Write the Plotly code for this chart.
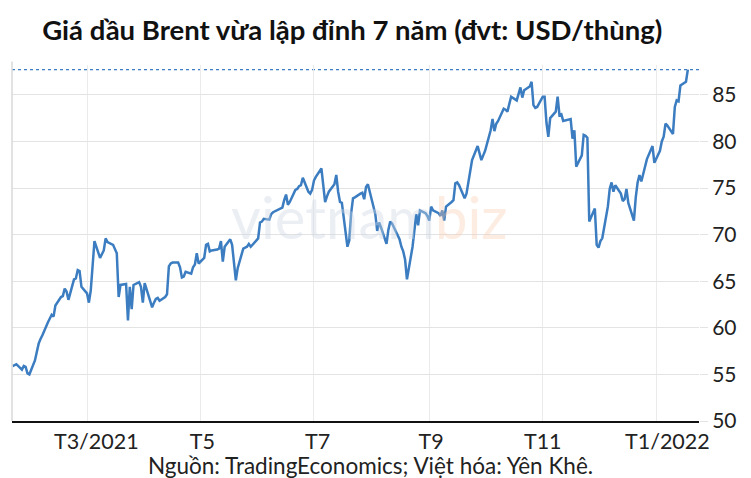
import plotly.graph_objects as go

# ---- data ----
dates = (
    ["2021-01-%02d" % d for d in [20, 21, 22, 25, 26, 27, 28, 29]]
    + ["2021-02-%02d" % d for d in [1, 2, 3, 4, 5, 8, 9, 10, 11, 12, 15, 16, 17, 18, 19, 22, 23, 24, 25, 26]]
    + ["2021-03-%02d" % d for d in [1, 2, 3, 4, 5, 8, 9, 10, 11, 12, 15, 16, 17, 18, 19, 22, 23, 24, 25, 26, 29, 30, 31]]
    + ["2021-04-%02d" % d for d in [1, 5, 6, 7, 8, 9, 12, 13, 14, 15, 16, 19, 20, 21, 22, 23, 26, 27, 28, 29, 30]]
    + ["2021-05-%02d" % d for d in [3, 4, 5, 6, 7, 10, 11, 12, 13, 14, 17, 18, 19, 20, 21, 24, 25, 26, 27, 28]]
    + ["2021-06-%02d" % d for d in [1, 2, 3, 4, 7, 8, 9, 10, 11, 14, 15, 16, 17, 18, 21, 22, 23, 24, 25, 28, 29, 30]]
    + ["2021-07-%02d" % d for d in [1, 2, 5, 6, 7, 8, 9, 12, 13, 14, 15, 16, 19, 20, 21, 22, 23, 26, 27, 28, 29, 30]]
    + ["2021-08-%02d" % d for d in [2, 3, 4, 5, 6, 9, 10, 11, 12, 13, 16, 17, 18, 19, 20, 23, 24, 25, 26, 27, 30, 31]]
    + ["2021-09-%02d" % d for d in [1, 2, 3, 6, 7, 8, 9, 10, 13, 14, 15, 16, 17, 20, 21, 22, 23, 24, 27, 28, 29, 30]]
    + ["2021-10-%02d" % d for d in [1, 4, 5, 6, 7, 8, 11, 12, 13, 14, 15, 18, 19, 20, 21, 22, 25, 26, 27, 28, 29]]
    + ["2021-11-%02d" % d for d in [1, 2, 3, 4, 5, 8, 9, 10, 11, 12, 15, 16, 17, 18, 19, 22, 23, 24, 25, 26, 29, 30]]
    + ["2021-12-%02d" % d for d in [1, 2, 3, 6, 7, 8, 9, 10, 13, 14, 15, 16, 17, 20, 21, 22, 23, 24, 27, 28, 29, 30, 31]]
    + ["2022-01-%02d" % d for d in [3, 4, 5, 6, 7, 10, 11, 12, 13, 14, 17, 18]]
)

prices_jan21 = [55.9, 56.0, 56.1, 55.5, 55.9, 55.8, 55.1, 55.0]
prices_feb21 = [56.5, 57.4, 58.3, 58.8, 59.2, 60.6, 61.1, 61.4, 61.2, 62.4, 63.3, 63.4, 64.2, 63.9, 63.0,
                65.2, 65.3, 66.2, 66.1, 64.4]
prices_mar21 = [63.7, 62.7, 64.0, 66.8, 69.3, 67.5, 67.9, 68.3, 69.6, 69.2, 68.9, 68.4, 68.0, 63.3, 64.6,
                64.7, 60.8, 64.4, 62.0, 64.6, 64.9, 64.4, 62.7]
prices_apr21 = [64.8, 62.2, 62.7, 63.1, 63.2, 62.9, 63.3, 63.6, 66.6, 66.9, 67.0, 67.0, 66.5, 65.4, 65.5,
                66.0, 65.8, 66.5, 66.8, 68.0, 66.9]
prices_may21 = [67.5, 68.9, 69.0, 68.2, 68.3, 68.4, 68.5, 69.3, 67.1, 68.7, 69.5, 68.9, 66.7, 65.1, 66.4,
                68.5, 68.6, 68.7, 69.0, 68.7]
prices_jun21 = [69.6, 71.3, 71.4, 71.7, 71.6, 72.2, 72.4, 72.5, 72.6, 72.9, 73.7, 74.3, 73.2, 73.5, 74.8,
                74.9, 75.2, 75.3, 76.1, 74.6, 74.4, 74.8]
prices_jul21 = [75.8, 76.2, 77.1, 75.5, 73.5, 74.1, 74.6, 75.4, 76.4, 74.6, 73.5, 73.4, 68.7, 69.4, 72.3,
                73.9, 74.0, 74.4, 74.5, 73.8, 75.1, 75.4]
prices_aug21 = [72.8, 72.2, 70.4, 71.3, 70.8, 69.0, 70.5, 71.4, 71.2, 70.8, 69.5, 68.7, 68.2, 67.3, 65.2,
                68.7, 70.8, 72.2, 71.0, 72.6, 72.3, 72.0]
prices_sep21 = [71.5, 73.0, 72.6, 72.3, 72.0, 72.6, 71.5, 73.0, 73.5, 73.7, 75.5, 75.6, 75.3, 73.9, 74.4,
                75.6, 76.9, 78.0, 79.5, 78.6, 78.0, 78.5]
prices_oct21 = [79.0, 81.2, 82.4, 81.1, 81.9, 82.2, 83.5, 83.4, 83.2, 84.0, 84.8, 84.4, 85.1, 85.8, 84.7,
                85.5, 85.9, 86.4, 83.9, 83.6, 83.7]
prices_nov21 = [84.8, 84.8, 82.0, 80.5, 82.5, 83.2, 84.8, 82.8, 82.9, 82.2, 82.3, 82.4, 80.3, 81.2, 77.3,
                78.5, 80.7, 80.6, 80.4, 71.4, 72.8, 68.9]
prices_dec21 = [68.6, 69.3, 69.6, 73.0, 74.9, 75.6, 74.6, 75.3, 74.4, 73.6, 73.8, 74.9, 73.4, 71.5, 74.0,
                75.6, 76.4, 75.7, 78.1, 78.6, 79.0, 79.5, 77.7]
prices_jan22 = [79.0, 80.0, 80.5, 81.9, 81.7, 80.8, 83.7, 84.4, 84.3, 86.0, 86.4, 87.7]

prices = (prices_jan21 + prices_feb21 + prices_mar21 + prices_apr21 + prices_may21 + prices_jun21
          + prices_jul21 + prices_aug21 + prices_sep21 + prices_oct21 + prices_nov21 + prices_dec21
          + prices_jan22)

grid_dates = ["2021-03-01", "2021-05-01", "2021-07-01", "2021-09-01", "2021-11-01", "2022-01-01"]
label_dates = ["2021-03-06", "2021-05-02", "2021-07-03", "2021-09-02", "2021-11-01", "2022-01-07"]
tick_labels = ["T3/2021", "T5", "T7", "T9", "T11", "T1/2022"]
y_ticks = [50, 55, 60, 65, 70, 75, 80, 85]

title_text = "Giá dầu Brent vừa lập đỉnh 7 năm (đvt: USD/thùng)"
source_text = "Nguồn: TradingEconomics; Việt hóa: Yên Khê."

FONT = "Lato"

fig = go.Figure()
fig.add_trace(go.Scatter(
    x=dates, y=prices, mode="lines",
    line=dict(color="#3b7dc0", width=2.5),
    hoverinfo="x+y", showlegend=False,
))

# dotted line at last value
fig.add_shape(type="line", xref="paper", x0=0, x1=1, yref="y", y0=prices[-1], y1=prices[-1],
              line=dict(color="#3b7dc0", width=1.2, dash="dot"), layer="below")
# left border
fig.add_shape(type="line", xref="paper", x0=0, x1=0, yref="paper", y0=0, y1=1.01,
              line=dict(color="#d9d9d9", width=1.5))

# faint watermark (single text, two colours)
fig.add_annotation(
    text="<span style='color:rgba(205,215,228,0.40)'>vietnam</span>"
         "<span style='color:rgba(247,200,170,0.35)'>biz</span>",
    xref="paper", yref="paper", x=0.52, y=0.575, showarrow=False,
    font=dict(family=FONT, size=58))

fig.add_annotation(text=source_text, xref="paper", yref="paper", x=0.522, y=-0.126,
                   xanchor="center", yanchor="middle", showarrow=False,
                   font=dict(family=FONT, size=22.5, color="#222222"))

fig.update_layout(
    width=751, height=478,
    margin=dict(l=12, r=52, t=65, b=57, autoexpand=False),
    paper_bgcolor="white", plot_bgcolor="white",
    title=dict(text="<b>" + title_text + "</b>", x=0.469, xanchor="center", y=0.937, yanchor="middle",
               font=dict(family=FONT, size=27.5, color="#111111")),
    xaxis=dict(
        type="date", range=["2021-01-19 16:00", "2022-01-24"], automargin=False,
        tickmode="array", tickvals=label_dates, ticktext=tick_labels,
        showgrid=False, ticks="", showline=True, linecolor="#111111", linewidth=1.5,
        tickfont=dict(family=FONT, size=21.5, color="#222222"),
        minor=dict(tickmode="array", tickvals=grid_dates, showgrid=True, gridcolor="#ebebeb", gridwidth=1),
        zeroline=False, fixedrange=True,
    ),
    yaxis=dict(
        side="right", range=[50, 88.2], tickmode="array", tickvals=y_ticks, automargin=False,
        showgrid=True, gridcolor="#e3e3e3", gridwidth=1,
        ticks="outside", ticklen=8, tickcolor="#e3e3e3",
        tickfont=dict(family=FONT, size=21, color="#222222"),
        showline=False, zeroline=False, fixedrange=True,
    ),
)

fig.write_html("out.html", config={"displayModeBar": False},
               post_script="document.body.style.margin='0';document.body.style.overflow='hidden';")
